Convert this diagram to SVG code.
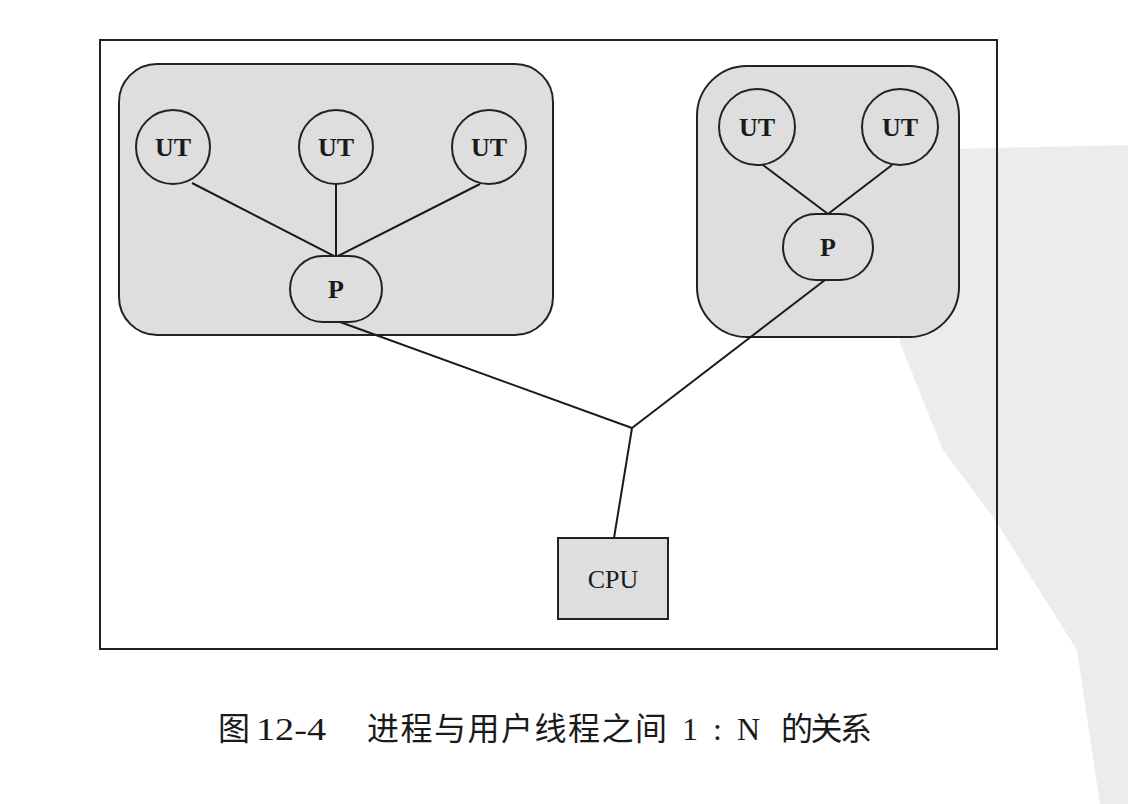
<svg xmlns="http://www.w3.org/2000/svg" width="1128" height="804" viewBox="0 0 1128 804">
<style>
.box{fill:#dedede;stroke:#222;stroke-width:2}
.node{fill:#dedede;stroke:#222;stroke-width:2}
.lbl{font-family:"Liberation Serif",serif;font-weight:bold;font-size:26px;fill:#1a1a1a;text-anchor:middle}
.conn line{stroke:#1a1a1a;stroke-width:2}
.cap{font-family:"Liberation Serif","Noto Sans CJK SC",serif;font-size:32px;fill:#1a1a1a}
</style>
<rect width="1128" height="804" fill="#fff"/>
<polygon id="watermark" points="905,150 1128,145 1128,804 1100,804 1077,650 993,517 943,450 900,343" fill="#ececec"/>
<rect id="frame" x="100" y="40" width="897" height="609" fill="none" stroke="#222" stroke-width="2"/>
<g id="process1"><rect class="box" x="119" y="64" width="434" height="271" rx="38"/></g>
<g id="process2"><rect class="box" x="697" y="66" width="262" height="271" rx="50"/></g>
<g class="conn" id="connectors">
<line x1="192" y1="183" x2="336" y2="257"/>
<line x1="336" y1="184" x2="336" y2="257"/>
<line x1="480" y1="184" x2="336" y2="257"/>
<line x1="763" y1="165" x2="828" y2="214"/>
<line x1="892" y1="165" x2="828" y2="214"/>
<line x1="340" y1="322" x2="632" y2="428"/>
<line x1="825" y1="280" x2="632" y2="428"/>
<line x1="632" y1="428" x2="614" y2="538"/>
</g>
<g id="ut1"><circle class="node" cx="173" cy="147" r="37"/><text class="lbl" x="173" y="156">UT</text></g>
<g id="ut2"><circle class="node" cx="336" cy="147" r="37"/><text class="lbl" x="336" y="156">UT</text></g>
<g id="ut3"><circle class="node" cx="489" cy="147" r="37"/><text class="lbl" x="489" y="156">UT</text></g>
<g id="p1"><rect class="node" x="290" y="256" width="92" height="66" rx="33"/><text class="lbl" x="336" y="298">P</text></g>
<g id="ut4"><circle class="node" cx="757" cy="127" r="38"/><text class="lbl" x="757" y="136">UT</text></g>
<g id="ut5"><circle class="node" cx="900" cy="127" r="38"/><text class="lbl" x="900" y="136">UT</text></g>
<g id="p2"><rect class="node" x="783" y="214" width="90" height="66" rx="33"/><text class="lbl" x="828" y="256">P</text></g>
<g id="cpu"><rect class="node" x="558" y="538" width="110" height="81"/><text class="lbl" x="613" y="588" style="font-weight:normal">CPU</text></g>
<text id="caption" class="cap" y="740"><tspan x="218">图</tspan> <tspan x="256" textLength="70" lengthAdjust="spacingAndGlyphs">12-4</tspan> <tspan x="367" textLength="300">进程与用户线程之间</tspan> <tspan x="682">1</tspan> <tspan x="713">:</tspan> <tspan x="737">N</tspan> <tspan x="781" textLength="91">的关系</tspan></text>
</svg>
